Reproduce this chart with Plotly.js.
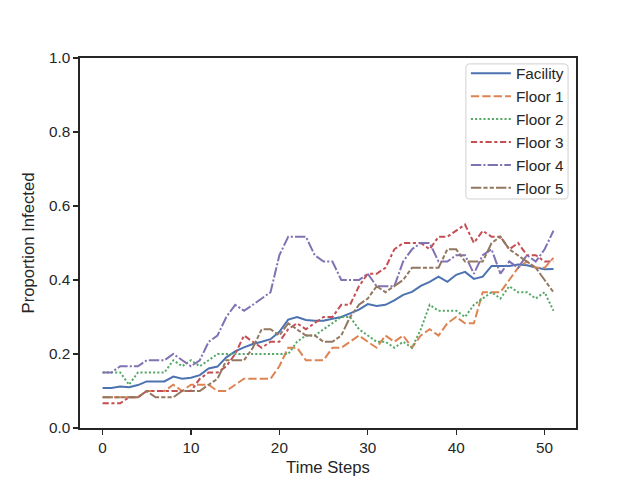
<!DOCTYPE html>
<html>
<head>
<meta charset="utf-8">
<script src="https://cdn.plot.ly/plotly-3.0.1.min.js"></script>
<style>html,body{margin:0;padding:0;background:#fff;}#chart{width:640px;height:480px;}</style>
</head>
<body>
<div id="chart"></div>
<script>
// Time steps 0..51
const timeSteps = [0,1,2,3,4,5,6,7,8,9,10,11,12,13,14,15,16,17,18,19,20,21,22,23,24,25,26,27,28,29,30,31,32,33,34,35,36,37,38,39,40,41,42,43,44,45,46,47,48,49,50,51];

const seriesNames = ["Facility", "Floor 1", "Floor 2", "Floor 3", "Floor 4", "Floor 5"];

const facility = [0.108,0.108,0.112,0.110,0.116,0.126,0.126,0.126,0.139,0.133,0.136,0.143,0.161,0.166,0.191,0.207,0.218,0.227,0.233,0.240,0.260,0.293,0.300,0.292,0.290,0.290,0.295,0.300,0.310,0.320,0.335,0.330,0.333,0.345,0.360,0.368,0.384,0.395,0.409,0.395,0.414,0.422,0.403,0.409,0.438,0.438,0.438,0.442,0.440,0.434,0.429,0.430];

const floor1 = [0.083,0.083,0.083,0.083,0.083,0.100,0.100,0.100,0.117,0.100,0.117,0.117,0.117,0.100,0.100,0.117,0.133,0.133,0.133,0.133,0.167,0.217,0.217,0.183,0.183,0.183,0.217,0.217,0.233,0.250,0.233,0.217,0.250,0.233,0.250,0.217,0.250,0.267,0.250,0.283,0.300,0.283,0.283,0.367,0.367,0.367,0.400,0.433,0.450,0.433,0.433,0.460];

const floor2 = [0.150,0.150,0.150,0.117,0.150,0.150,0.150,0.150,0.183,0.167,0.183,0.167,0.183,0.200,0.200,0.200,0.200,0.200,0.200,0.200,0.200,0.200,0.233,0.250,0.250,0.267,0.283,0.300,0.300,0.267,0.250,0.233,0.233,0.217,0.233,0.217,0.267,0.333,0.317,0.317,0.317,0.300,0.333,0.350,0.367,0.350,0.383,0.367,0.367,0.350,0.367,0.317];

const floor3 = [0.067,0.067,0.067,0.083,0.083,0.100,0.100,0.100,0.100,0.100,0.100,0.133,0.150,0.150,0.167,0.200,0.250,0.233,0.217,0.233,0.233,0.267,0.283,0.267,0.283,0.300,0.300,0.333,0.333,0.383,0.417,0.417,0.433,0.483,0.500,0.500,0.500,0.483,0.517,0.517,0.533,0.550,0.500,0.533,0.517,0.517,0.483,0.500,0.467,0.467,0.450,0.450];

const floor4 = [0.150,0.150,0.167,0.167,0.167,0.183,0.183,0.183,0.200,0.183,0.167,0.183,0.233,0.250,0.300,0.333,0.317,0.333,0.350,0.367,0.467,0.517,0.517,0.517,0.467,0.450,0.450,0.400,0.400,0.400,0.417,0.383,0.383,0.383,0.450,0.483,0.500,0.500,0.450,0.450,0.467,0.467,0.417,0.467,0.483,0.417,0.450,0.433,0.467,0.450,0.483,0.533];

const floor5 = [0.083,0.083,0.083,0.083,0.083,0.100,0.083,0.083,0.083,0.100,0.100,0.100,0.117,0.133,0.183,0.183,0.183,0.217,0.267,0.267,0.250,0.283,0.267,0.250,0.250,0.233,0.233,0.250,0.300,0.333,0.350,0.383,0.367,0.383,0.400,0.433,0.433,0.433,0.433,0.483,0.483,0.450,0.450,0.450,0.500,0.517,0.483,0.467,0.450,0.433,0.400,0.367];

const xTicks = [0,10,20,30,40,50];
const yTicks = [0.0,0.2,0.4,0.6,0.8,1.0];

const allSeries = [facility, floor1, floor2, floor3, floor4, floor5];
const colors = ["#4C72B0","#DD8452","#55A868","#C44E52","#8172B3","#937860"];
const dashes = ["solid","8.3px,3.1px","2.1px,2.1px","6.25px,2.6px,3.1px,2.6px","10.4px,2.1px,2.1px,2.1px","10.4px,2.1px,4.2px,2.1px,4.2px,2.1px"];

const traces = allSeries.map((ys, i) => ({
  type: "scatter",
  mode: "lines",
  name: seriesNames[i],
  x: timeSteps,
  y: ys,
  line: {color: colors[i], width: 2, dash: dashes[i]}
}));

const txt = "#262626";
const fontFam = "Liberation Sans, Arial, DejaVu Sans, sans-serif";

// legend frame (rounded box) in paper coordinates
const bx0 = 0.778, bx1 = 0.984, by0 = 0.619, by1 = 0.984, rx = 0.008, ry = 0.011;
const framePath = `M${bx0+rx},${by1} L${bx1-rx},${by1} Q${bx1},${by1} ${bx1},${by1-ry} L${bx1},${by0+ry} Q${bx1},${by0} ${bx1-rx},${by0} L${bx0+rx},${by0} Q${bx0},${by0} ${bx0},${by0+ry} L${bx0},${by1-ry} Q${bx0},${by1} ${bx0+rx},${by1} Z`;

const layout = {
  width: 640, height: 480,
  margin: {l: 80, r: 64, t: 58, b: 52, pad: 0},
  paper_bgcolor: "#ffffff",
  plot_bgcolor: "#ffffff",
  font: {family: fontFam, color: txt, size: 15.3},
  showlegend: true,
  xaxis: {
    range: [-2.55, 53.55],
    tickmode: "array", tickvals: xTicks, ticktext: xTicks.map(String),
    ticks: "outside", ticklen: 5, tickwidth: 1.2, tickcolor: txt,
    showline: true, linecolor: txt, linewidth: 1.6, mirror: true,
    showgrid: false, zeroline: false,
    tickfont: {size: 15.3, color: txt, family: fontFam},
    title: {text: "Time Steps", font: {size: 16.7, color: txt, family: fontFam}, standoff: 6}
  },
  yaxis: {
    range: [0, 1],
    tickmode: "array", tickvals: yTicks, ticktext: yTicks.map(v => v.toFixed(1)),
    ticks: "outside", ticklen: 5, tickwidth: 1.2, tickcolor: txt,
    showline: true, linecolor: txt, linewidth: 1.6, mirror: true,
    showgrid: false, zeroline: false,
    tickfont: {size: 15.3, color: txt, family: fontFam},
    title: {text: "Proportion Infected", font: {size: 16.7, color: txt, family: fontFam}, standoff: 10}
  },
  shapes: [{
    type: "path", xref: "paper", yref: "paper", path: framePath,
    line: {color: "#d0d0d0", width: 1}, fillcolor: "rgba(255,255,255,0.8)", layer: "above"
  }],
  legend: {
    x: 0.778, y: 1.003, xanchor: "left", yanchor: "top",
    bgcolor: "rgba(0,0,0,0)", borderwidth: 0,
    font: {size: 15.3, color: txt, family: fontFam},
    itemwidth: 40
  }
};

Plotly.newPlot("chart", traces, layout, {staticPlot: true, displayModeBar: false});
</script>
</body>
</html>
